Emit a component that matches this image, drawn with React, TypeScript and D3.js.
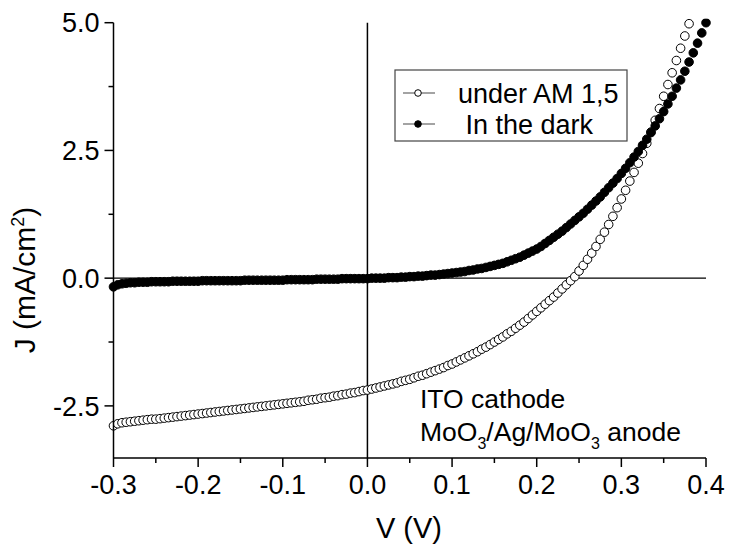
import * as d3 from 'd3';

// bias voltage (V), one reading every 5 mV
const voltages = [
  -0.300, -0.295, -0.290, -0.285, -0.280, -0.275, -0.270, -0.265, -0.260, -0.255,
  -0.250, -0.245, -0.240, -0.235, -0.230, -0.225, -0.220, -0.215, -0.210, -0.205,
  -0.200, -0.195, -0.190, -0.185, -0.180, -0.175, -0.170, -0.165, -0.160, -0.155,
  -0.150, -0.145, -0.140, -0.135, -0.130, -0.125, -0.120, -0.115, -0.110, -0.105,
  -0.100, -0.095, -0.090, -0.085, -0.080, -0.075, -0.070, -0.065, -0.060, -0.055,
  -0.050, -0.045, -0.040, -0.035, -0.030, -0.025, -0.020, -0.015, -0.010, -0.005,
  0.000, 0.005, 0.010, 0.015, 0.020, 0.025, 0.030, 0.035, 0.040, 0.045,
  0.050, 0.055, 0.060, 0.065, 0.070, 0.075, 0.080, 0.085, 0.090, 0.095,
  0.100, 0.105, 0.110, 0.115, 0.120, 0.125, 0.130, 0.135, 0.140, 0.145,
  0.150, 0.155, 0.160, 0.165, 0.170, 0.175, 0.180, 0.185, 0.190, 0.195,
  0.200, 0.205, 0.210, 0.215, 0.220, 0.225, 0.230, 0.235, 0.240, 0.245,
  0.250, 0.255, 0.260, 0.265, 0.270, 0.275, 0.280, 0.285, 0.290, 0.295,
  0.300, 0.305, 0.310, 0.315, 0.320, 0.325, 0.330, 0.335, 0.340, 0.345,
  0.350, 0.355, 0.360, 0.365, 0.370, 0.375, 0.380, 0.385, 0.390, 0.395,
  0.400,
];

// J (mA/cm2) under AM 1,5 (stops at 0.380 V)
const jLight = [
  -2.89, -2.85, -2.83, -2.82, -2.81, -2.80, -2.79, -2.78, -2.77, -2.76,
  -2.76, -2.75, -2.74, -2.73, -2.72, -2.71, -2.70, -2.69, -2.68, -2.67,
  -2.66, -2.65, -2.64, -2.63, -2.62, -2.61, -2.60, -2.59, -2.58, -2.57,
  -2.56, -2.55, -2.54, -2.53, -2.52, -2.51, -2.50, -2.49, -2.48, -2.47,
  -2.46, -2.45, -2.44, -2.43, -2.42, -2.41, -2.39, -2.38, -2.37, -2.35,
  -2.34, -2.33, -2.31, -2.30, -2.28, -2.27, -2.25, -2.24, -2.22, -2.20,
  -2.19, -2.17, -2.15, -2.13, -2.11, -2.09, -2.07, -2.05, -2.02, -2.00,
  -1.98, -1.95, -1.92, -1.90, -1.87, -1.84, -1.81, -1.78, -1.75, -1.71,
  -1.68, -1.64, -1.60, -1.56, -1.52, -1.48, -1.44, -1.39, -1.35, -1.30,
  -1.25, -1.20, -1.15, -1.09, -1.04, -0.98, -0.92, -0.86, -0.79, -0.72,
  -0.65, -0.58, -0.51, -0.44, -0.37, -0.29, -0.21, -0.13, -0.05, 0.03,
  0.14, 0.25, 0.37, 0.49, 0.62, 0.76, 0.90, 1.05, 1.21, 1.38,
  1.55, 1.72, 1.90, 2.07, 2.25, 2.44, 2.64, 2.86, 3.09, 3.32,
  3.56, 3.79, 4.02, 4.26, 4.50, 4.74, 4.98,
];

// J (mA/cm2) in the dark
const jDark = [
  -0.17, -0.13, -0.11, -0.10, -0.09, -0.09, -0.08, -0.08, -0.08, -0.07,
  -0.07, -0.07, -0.07, -0.07, -0.06, -0.06, -0.06, -0.06, -0.06, -0.06,
  -0.06, -0.05, -0.05, -0.05, -0.05, -0.05, -0.05, -0.05, -0.05, -0.05,
  -0.05, -0.04, -0.04, -0.04, -0.04, -0.04, -0.04, -0.04, -0.04, -0.04,
  -0.04, -0.03, -0.03, -0.03, -0.03, -0.03, -0.03, -0.03, -0.02, -0.02,
  -0.02, -0.02, -0.02, -0.02, -0.01, -0.01, -0.01, -0.01, -0.01, -0.01,
  -0.01, 0.00, 0.00, 0.00, 0.00, 0.01, 0.01, 0.01, 0.02, 0.02,
  0.03, 0.03, 0.04, 0.04, 0.05, 0.06, 0.06, 0.07, 0.08, 0.09,
  0.10, 0.11, 0.12, 0.13, 0.15, 0.16, 0.18, 0.19, 0.21, 0.23,
  0.25, 0.27, 0.29, 0.32, 0.35, 0.38, 0.41, 0.45, 0.49, 0.53,
  0.57, 0.62, 0.68, 0.74, 0.80, 0.86, 0.92, 0.99, 1.06, 1.13,
  1.20, 1.27, 1.35, 1.43, 1.51, 1.59, 1.68, 1.77, 1.86, 1.95,
  2.05, 2.15, 2.26, 2.37, 2.48, 2.60, 2.72, 2.85, 2.98, 3.12,
  3.26, 3.41, 3.56, 3.72, 3.88, 4.05, 4.23, 4.41, 4.60, 4.80,
  5.00,
];

const xTicks = [-0.3, -0.2, -0.1, 0.0, 0.1, 0.2, 0.3, 0.4];
const xMinor = [-0.25, -0.15, -0.05, 0.05, 0.15, 0.25, 0.35];
const yTicks = [-2.5, 0.0, 2.5, 5.0];
const yMinor = [-1.25, 1.25, 3.75];
const legendLabels = ['under AM 1,5', ' In the dark'];

const W = 729, H = 552;
const FONT = "Arial, 'Liberation Sans', sans-serif";
const FS = 27;

export default function App() {
  const x = d3.scaleLinear().domain([-0.3, 0.4]).range([113.5, 706]);
  const y = d3.scaleLinear().domain([-3.52, 5]).range([458, 22.7]);
  const R = 4.3;

  const light = jLight.map((j, i) => ({ v: voltages[i], j }));
  const dark = jDark.map((j, i) => ({ v: voltages[i], j }));

  const x0 = x(-0.3), x1 = x(0.4), yb = y(-3.52), yt = y(5);

  return (
    <svg width={W} height={H} style={{ position: 'absolute', left: 0, top: 0, background: '#fff' }} fontFamily={FONT}>
      <defs>
        <clipPath id="plot">
          <rect x={x0 - 6} y={yt - 4} width={x1 - x0 + 12} height={yb - yt + 4} />
        </clipPath>
      </defs>

      {/* zero lines */}
      <line x1={x0} x2={x1} y1={y(0)} y2={y(0)} stroke="#000" strokeWidth={1.3} />
      <line x1={x(0)} x2={x(0)} y1={yt} y2={yb} stroke="#000" strokeWidth={1.5} />

      <g clipPath="url(#plot)">
        {light.map((d, i) => (
          <circle key={'l' + i} cx={x(d.v)} cy={y(d.j)} r={R} fill="#fff" stroke="#000" strokeWidth={1} />
        ))}
        {dark.map((d, i) => (
          <circle key={'d' + i} cx={x(d.v)} cy={y(d.j)} r={R} fill="#000" stroke="#000" strokeWidth={1} />
        ))}
      </g>

      {/* axes */}
      <line x1={x0} x2={x0} y1={yt} y2={yb} stroke="#000" strokeWidth={1.5} />
      <line x1={x0} x2={x1} y1={yb} y2={yb} stroke="#000" strokeWidth={1.5} />
      {yTicks.map(t => (
        <g key={'yt' + t}>
          <line x1={x0 - 9} x2={x0} y1={y(t)} y2={y(t)} stroke="#000" strokeWidth={1.5} />
          <text x={x0 - 14} y={y(t)} dy="0.36em" textAnchor="end" fontSize={FS}>{t.toFixed(1)}</text>
        </g>
      ))}
      {yMinor.map(t => (
        <line key={'ym' + t} x1={x0 - 5} x2={x0} y1={y(t)} y2={y(t)} stroke="#000" strokeWidth={1.5} />
      ))}
      {xTicks.map(t => (
        <g key={'xt' + t}>
          <line x1={x(t)} x2={x(t)} y1={yb} y2={yb + 9} stroke="#000" strokeWidth={1.5} />
          <text x={x(t)} y={yb + 36} textAnchor="middle" fontSize={FS}>{t.toFixed(1)}</text>
        </g>
      ))}
      {xMinor.map(t => (
        <line key={'xm' + t} x1={x(t)} x2={x(t)} y1={yb} y2={yb + 5} stroke="#000" strokeWidth={1.5} />
      ))}

      {/* axis titles */}
      <text x={409} y={538} textAnchor="middle" fontSize={29}>V (V)</text>
      <text transform={`translate(35,280) rotate(-90)`} textAnchor="middle" fontSize={30}>
        J (mA/cm<tspan dy="-11" fontSize={18}>2</tspan><tspan dy="11">)</tspan>
      </text>

      {/* legend */}
      <rect x={395} y={70} width={232} height={71} fill="#fff" stroke="#444" strokeWidth={1.2} />
      {legendLabels.map((lab, i) => {
        const ly = 93 + i * 31;
        return (
          <g key={'lg' + i}>
            <line x1={403} x2={435} y1={ly} y2={ly} stroke="#666" strokeWidth={1.2} />
            <circle cx={418} cy={ly} r={3.3} fill={i === 0 ? '#fff' : '#000'} stroke="#000" strokeWidth={1} />
            <text x={458} y={ly} dy="0.36em" fontSize={27} style={{ whiteSpace: 'pre' }}>{lab}</text>
          </g>
        );
      })}

      {/* annotation */}
      <text x={420} y={408} fontSize={26.5}>ITO cathode</text>
      <text x={420} y={441} fontSize={26.5}>
        MoO<tspan dy="8" fontSize={16}>3</tspan><tspan dy="-8">/Ag/MoO</tspan>
        <tspan dy="8" fontSize={16}>3</tspan><tspan dy="-8"> anode</tspan>
      </text>
    </svg>
  );
}
